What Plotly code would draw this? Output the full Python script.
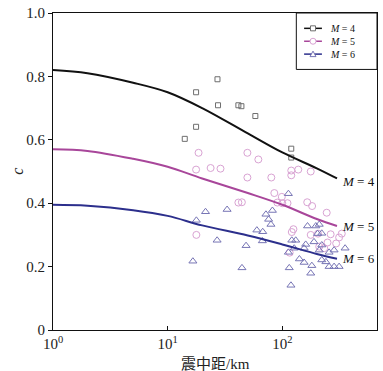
import plotly.graph_objects as go

# Fitted curves
curve_dist = [1, 2, 5, 10, 20, 50, 100, 200, 300]
curve_m4 = [0.82, 0.81, 0.78, 0.75, 0.70, 0.62, 0.56, 0.51, 0.478]
curve_m5 = [0.57, 0.565, 0.54, 0.515, 0.478, 0.432, 0.395, 0.35, 0.328]
curve_m6 = [0.395, 0.392, 0.378, 0.36, 0.33, 0.298, 0.27, 0.24, 0.225]

# Observations M=4
obs4_dist = [27.2, 17.7, 27.5, 41.4, 44.0, 58.2, 17.7, 14.1, 119.7, 119.7]
obs4_c = [0.791, 0.75, 0.709, 0.709, 0.706, 0.675, 0.641, 0.603, 0.572, 0.544]

# Observations M=5
obs5_dist = [18.6, 17.7, 23.7, 28.9, 49.6, 61.8, 49.6, 80.2, 119.7, 119.7, 137.8, 177,
             44.4, 41.4, 85.2, 99, 90.5, 100, 111, 165, 182, 244, 121, 177, 205, 264,
             313, 248, 295, 232, 116, 210, 17.8, 125, 330]
obs5_c = [0.559, 0.506, 0.511, 0.509, 0.559, 0.538, 0.481, 0.481, 0.503, 0.488, 0.506, 0.5,
          0.403, 0.402, 0.432, 0.42, 0.402, 0.4, 0.4, 0.403, 0.391, 0.37, 0.309, 0.3, 0.304, 0.302,
          0.292, 0.276, 0.273, 0.258, 0.244, 0.263, 0.3, 0.318, 0.304]

# Observations M=6
obs6_dist = [21.4, 33.0, 17.8, 27.0, 60, 67.5, 72, 76, 79.6, 82, 67, 48.3, 16.6, 44.5,
             113, 166, 196, 210, 203, 221, 121, 131, 189, 221, 155, 127, 113, 210, 283, 353,
             256, 141, 155, 181, 221, 256, 283, 313, 115, 177, 119, 160, 240]
obs6_c = [0.373, 0.38, 0.346, 0.283, 0.315, 0.31, 0.365, 0.349, 0.333, 0.377, 0.281, 0.266, 0.217, 0.196,
          0.43, 0.328, 0.328, 0.333, 0.304, 0.305, 0.283, 0.283, 0.278, 0.268, 0.258, 0.258, 0.245, 0.252, 0.252, 0.258,
          0.245, 0.224, 0.213, 0.203, 0.221, 0.2, 0.2, 0.2, 0.196, 0.179, 0.141, 0.27, 0.215]

legend_names = ["<i>M</i> = 4", "<i>M</i> = 5", "<i>M</i> = 6"]
x_tickvals = [1, 10, 100]
x_ticktext = ["10<sup>0</sup>", "10<sup>1</sup>", "10<sup>2</sup>"]
y_tickvals = [0, 0.2, 0.4, 0.6, 0.8, 1.0]
y_ticktext = ["0", "0.2", "0.4", "0.6", "0.8", "1.0"]

SERIF = "Liberation Serif, DejaVu Serif, serif"
c4, c5, c6 = "#111111", "#a8469a", "#2c2f8c"
m4c, m5c, m6c = "#6e6e6e", "#d9a3d3", "#7775b5"

fig = go.Figure()

fig.add_trace(go.Scatter(x=obs4_dist, y=obs4_c, mode="markers", showlegend=False,
                         marker=dict(symbol="square-open", size=5, color=m4c, line=dict(width=1))))
fig.add_trace(go.Scatter(x=obs5_dist, y=obs5_c, mode="markers", showlegend=False,
                         marker=dict(symbol="circle-open", size=7, color=m5c, line=dict(width=1))))
fig.add_trace(go.Scatter(x=obs6_dist, y=obs6_c, mode="markers", showlegend=False,
                         marker=dict(symbol="triangle-up-open", size=7, color=m6c, line=dict(width=1))))

for ys, col in [(curve_m4, c4), (curve_m5, c5), (curve_m6, c6)]:
    fig.add_trace(go.Scatter(x=curve_dist, y=ys, mode="lines", showlegend=False,
                             line=dict(color=col, width=2, shape="spline")))

# curve labels
for txt, yv in [(legend_names[0], 0.469), (legend_names[1], 0.325), (legend_names[2], 0.225)]:
    fig.add_annotation(x=2.504, y=yv, xref="x", yref="y", text=txt, showarrow=False,
                       xanchor="left", yanchor="middle",
                       font=dict(family=SERIF, size=13, color="#111"))

# manual compact legend (box, sample lines, sample markers, labels)
fig.add_shape(type="rect", xref="paper", yref="paper", x0=0.751, x1=1.0, y0=0.822, y1=1.0,
              line=dict(color="#111", width=1), fillcolor="white", layer="above")
leg_y = [0.9516, 0.9109, 0.8703]
for i, (col, mcol) in enumerate([(c4, m4c), (c5, m5c), (c6, m6c)]):
    yv = leg_y[i]
    fig.add_shape(type="line", xref="paper", yref="paper", x0=0.775, x1=0.83, y0=yv, y1=yv,
                  line=dict(color=col, width=1.5), layer="above")
    if i == 0:
        fig.add_shape(type="rect", xref="paper", yref="paper", xsizemode="pixel", ysizemode="pixel",
                      xanchor=0.8025, yanchor=yv, x0=-2.5, x1=2.5, y0=-2.5, y1=2.5,
                      line=dict(color=mcol, width=1), fillcolor="white", layer="above")
    elif i == 1:
        fig.add_shape(type="circle", xref="paper", yref="paper", xsizemode="pixel", ysizemode="pixel",
                      xanchor=0.8025, yanchor=yv, x0=-3, x1=3, y0=-3, y1=3,
                      line=dict(color=mcol, width=1), fillcolor="white", layer="above")
    else:
        fig.add_shape(type="path", xref="paper", yref="paper", xsizemode="pixel", ysizemode="pixel",
                      xanchor=0.8025, yanchor=yv, path="M -3,-2.5 L 3,-2.5 L 0,3 Z",
                      line=dict(color=mcol, width=1), fillcolor="white", layer="above")
fig.add_annotation(x=0.85, y=leg_y[1], xref="paper", yref="paper", text="<br>".join(legend_names),
                   showarrow=False, xanchor="left", yanchor="middle", align="left",
                   font=dict(family=SERIF, size=10, color="#111"))

# axis titles as annotations
fig.add_annotation(x=0.5, y=-0.075, xref="paper", yref="paper", yanchor="top", xanchor="center",
                   text="震中距/km", showarrow=False,
                   font=dict(family="Liberation Serif, Noto Sans CJK SC, serif", size=15, color="#222"))
fig.add_annotation(x=-0.11, y=0.5, xref="paper", yref="paper", text="<i>c</i>", showarrow=False,
                   textangle=-90, xanchor="center", yanchor="middle",
                   font=dict(family=SERIF, size=16, color="#222"))

axis_font = dict(family=SERIF, size=15, color="#222")
fig.update_layout(
    width=383, height=371,
    margin=dict(l=53, r=5, t=10, b=41),
    paper_bgcolor="white", plot_bgcolor="white",
    font=dict(family=SERIF, color="#222"),
    showlegend=False,
    xaxis=dict(type="log", range=[0, 2.826], tickvals=x_tickvals, ticktext=x_ticktext,
               ticks="inside", ticklen=4, tickcolor="#111", showline=True, linecolor="#111",
               linewidth=1, mirror=True, showgrid=False, zeroline=False, tickfont=axis_font),
    yaxis=dict(range=[0, 1], tickvals=y_tickvals, ticktext=y_ticktext,
               ticks="outside", ticklen=4, tickcolor="#111", showline=True, linecolor="#111",
               linewidth=1, mirror=True, showgrid=False, zeroline=False, tickfont=axis_font),
)

fig.write_html("out.html", config={"displayModeBar": False},
               post_script="document.body.style.margin='0px';document.body.style.overflow='hidden';")
